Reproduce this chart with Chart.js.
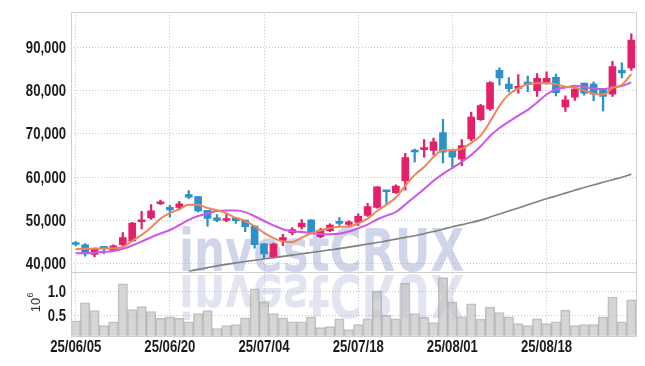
<!DOCTYPE html>
<html><head><meta charset="utf-8">
<script src="https://cdn.jsdelivr.net/npm/chart.js@4/dist/chart.umd.min.js"></script>
<style>html,body{margin:0;padding:0;background:#fff;}#wrap{width:645px;height:366px;}</style>
</head><body><div id="wrap"><canvas id="c" width="645" height="366"></canvas></div>
<script>
const dates = ['25/06/05','25/06/09','25/06/10','25/06/11','25/06/12','25/06/13','25/06/16','25/06/17','25/06/18','25/06/19',
'25/06/20','25/06/23','25/06/24','25/06/25','25/06/26','25/06/27','25/06/30','25/07/01','25/07/02','25/07/03',
'25/07/04','25/07/07','25/07/08','25/07/09','25/07/10','25/07/11','25/07/14','25/07/15','25/07/16','25/07/17',
'25/07/18','25/07/21','25/07/22','25/07/23','25/07/24','25/07/25','25/07/28','25/07/29','25/07/30','25/07/31',
'25/08/01','25/08/04','25/08/05','25/08/06','25/08/07','25/08/08','25/08/11','25/08/12','25/08/13','25/08/14',
'25/08/18','25/08/19','25/08/20','25/08/21','25/08/22','25/08/25','25/08/26','25/08/27','25/08/28','25/08/29'];
const xTickLabels = ['25/06/05','25/06/20','25/07/04','25/07/18','25/08/01','25/08/18'];
const priceTicks = [40000,50000,60000,70000,80000,90000];
const volumeTicks = [0.5,1.0];

const open = [44850,44338,42130,43805,43044,44338,45251,49665,50578,53850,
53013,53013,55981,55525,52328,50578,49970,50578,50046,48676,
44566,41523,45327,47154,48448,50122,46240,47610,49589,49057,
49540,51138,52966,56926,56392,59135,66140,66368,66216,70329,
66293,64161,68882,73299,75812,84715,81544,80562,81997,80034,
81997,83130,76259,78524,81771,81544,80562,79204,84715,85319];
const high = [45100,44640,43577,43957,44338,47154,49513,52102,53622,54688,
53470,54383,56895,55525,52328,51339,51339,50578,50046,48676,
44566,44718,46773,48295,50198,50122,48143,49209,50655,49894,
51519,53957,57764,56926,58221,65531,66521,68730,69034,73375,
66521,68730,75050,76878,82133,85319,83054,83734,83432,83960,
84413,83885,78826,81091,81771,82072,80562,86829,86451,93171];
const low = [44110,41675,41523,42283,42892,44110,45099,47990,50198,53622,
50730,52633,54992,51948,48676,49665,49665,49285,47382,43577,
41142,41294,44110,46620,47990,47382,46012,47382,48828,48752,
48778,50910,52814,53805,56240,56998,63552,64618,65150,63324,
62181,62638,68425,73146,75431,81317,79732,79430,79808,78675,
81544,78826,75202,77769,78977,77694,75353,78675,82979,84715];
const close = [44414,42207,43349,43500,44110,46012,49361,50122,52176,54307,
52405,53850,55372,52176,50426,49970,50426,49894,48524,44338,
42207,44490,46012,47838,49361,47382,47686,48904,49285,49665,
50911,53195,57764,56621,57917,64542,65835,66825,68197,65759,
64618,67283,73908,76573,81904,82979,80487,80940,81393,82904,
82904,79581,77920,80412,79430,79204,78675,85621,84111,91737];
const ma5 = [43300,43400,43450,43500,43516,43836,45266,46621,48356,50396,
51674,52572,53622,53622,52846,52359,51674,50578,49848,48630,
47078,45891,45114,44977,45982,47017,47656,48234,48524,48584,
49290,50392,52164,53631,55282,58008,60536,62348,64663,66232,
66247,66536,67953,69628,72857,76529,79170,80577,81541,81741,
81726,81544,80940,80744,80049,79309,79128,80668,81408,83870];
const ma10 = [42360,42435,42510,42660,42890,43425,44185,45100,46090,46956,
47755,48919,50122,50989,51621,52150,52250,52250,51900,50950,
49850,48850,47950,47450,47306,47047,46850,46800,46900,47400,
48153,49024,50199,51077,51933,53649,55464,57256,59147,60757,
62127,63536,65151,67146,69544,71388,72853,74265,75584,77299,
79128,80357,80759,81142,80895,80518,80336,80804,81076,81960];
const maLong = [null,null,null,null,null,null,null,null,null,null,
null,null,38200,38650,39050,39450,39800,40150,40450,40750,
41050,41350,41650,41950,42250,42550,42850,43150,43450,43800,
44150,44500,44850,45250,45650,46050,46450,46900,47400,47950,
48500,49000,49500,50050,50750,51450,52150,52850,53600,54300,
55000,55650,56300,56950,57600,58200,58800,59400,60000,60700];
const volume = [0.40,0.77,0.61,0.30,0.38,1.16,0.63,0.69,0.59,0.45,
0.48,0.45,0.38,0.55,0.61,0.24,0.30,0.32,0.46,1.06,
0.79,0.55,0.46,0.38,0.38,0.48,0.26,0.28,0.44,0.22,
0.32,0.44,1.01,0.51,0.44,1.17,0.55,0.47,0.36,1.29,
0.79,0.48,0.75,0.43,0.68,0.57,0.48,0.34,0.30,0.44,
0.34,0.38,0.62,0.30,0.32,0.32,0.48,0.89,0.38,0.83];

const RED = '#e3206a', BLUE = '#2b91c8';
const candleColors = close.map((c, i) => c >= open[i] ? RED : BLUE);
const GRID = '#c3c7d9';
const LABEL_FONT = 'bold 16px "Liberation Sans", Arial, sans-serif';
const NARROW = 0.82;
const HIDDEN = 'rgba(0,0,0,0)';

function narrowText(ctx, text, x, y, align) {
  ctx.save();
  ctx.translate(x, y);
  ctx.scale(NARROW, 1);
  ctx.textAlign = align;
  ctx.textBaseline = 'middle';
  ctx.fillText(text, 0, 0);
  ctx.restore();
}

const deco = {
  id: 'deco',
  beforeDatasetsDraw(chart) {
    const {ctx, chartArea: a} = chart;
    ctx.save();
    ctx.beginPath();
    ctx.rect(a.left, a.top, a.right - a.left, a.bottom - a.top);
    ctx.clip();
    ctx.font = 'bold 58px "DejaVu Sans", sans-serif';
    const txt = 'investCRUX';
    const w = ctx.measureText(txt).width;
    ctx.translate(179, 271);
    ctx.scale(285 / w, 1);
    ctx.fillStyle = 'rgba(150,160,206,0.44)';
    ctx.fillText(txt, 0, 0);
    ctx.translate(0, 4);
    ctx.scale(1, -1);
    ctx.fillStyle = 'rgba(150,160,206,0.28)';
    ctx.fillText(txt, 0, 0);
    ctx.restore();
  },
  afterDatasetsDraw(chart) {
    const {ctx, chartArea: a, scales} = chart;
    const sep = Math.round(scales.y.bottom) + 0.5;
    ctx.save();
    ctx.strokeStyle = '#cfcfcf';
    ctx.lineWidth = 1;
    ctx.beginPath();
    ctx.rect(Math.round(a.left) + 0.5, Math.round(a.top) + 0.5, Math.round(a.right - a.left), Math.round(a.bottom - a.top));
    ctx.moveTo(a.left, sep); ctx.lineTo(a.right, sep);
    ctx.stroke();
    ctx.restore();
  },
  afterDraw(chart) {
    const {ctx, chartArea: a, scales} = chart;
    ctx.save();
    ctx.fillStyle = '#1a1a1a';
    ctx.font = LABEL_FONT;
    priceTicks.forEach(v => narrowText(ctx, v.toLocaleString('en-US'), 66, scales.y.getPixelForValue(v) + 1, 'right'));
    volumeTicks.forEach(v => narrowText(ctx, v.toFixed(1), 66, scales.yv.getPixelForValue(v) + 1, 'right'));
    xTickLabels.forEach(l => narrowText(ctx, l, scales.x.getPixelForValue(dates.indexOf(l)), a.bottom + 12, 'center'));
    // volume axis unit title
    ctx.fillStyle = '#333';
    ctx.translate(36, 305);
    ctx.rotate(-Math.PI / 2);
    ctx.textAlign = 'center';
    ctx.textBaseline = 'middle';
    ctx.font = '13px "Liberation Sans", sans-serif';
    ctx.fillText('10', 0, 0);
    ctx.font = '9px "Liberation Sans", sans-serif';
    ctx.fillText('6', 10, -5);
    ctx.restore();
  }
};

new Chart(document.getElementById('c'), {
  type: 'bar',
  data: {
    labels: dates,
    datasets: [
      {type: 'line', label: 'MA5', data: ma5, yAxisID: 'y', borderColor: '#f0855a', borderWidth: 2, pointRadius: 0, cubicInterpolationMode: 'monotone', order: 0},
      {type: 'line', label: 'MA10', data: ma10, yAxisID: 'y', borderColor: '#cc58ea', borderWidth: 2, pointRadius: 0, cubicInterpolationMode: 'monotone', order: 0},
      {type: 'line', label: 'MA60', data: maLong, yAxisID: 'y', borderColor: '#808080', borderWidth: 1.6, pointRadius: 0, cubicInterpolationMode: 'monotone', order: 0},
      {label: 'wick', data: low.map((l, i) => [l, high[i]]), yAxisID: 'y', backgroundColor: candleColors, barThickness: 1.6, grouped: false, order: 1},
      {label: 'body', data: open.map((o, i) => [o, close[i]]), yAxisID: 'y', backgroundColor: candleColors, barThickness: 7, minBarLength: 2, grouped: false, order: 1},
      {label: 'volume', data: volume, yAxisID: 'yv', backgroundColor: 'rgba(195,195,195,0.68)', borderColor: 'rgba(165,165,165,0.7)', borderWidth: 1, barPercentage: 1, categoryPercentage: 1, grouped: false, order: 2}
    ]
  },
  options: {
    responsive: false, animation: false, devicePixelRatio: 1,
    layout: {padding: {left: 0, right: 9, top: 9, bottom: 7}},
    plugins: {legend: {display: false}, tooltip: {enabled: false}},
    scales: {
      x: {
        type: 'category', offset: true,
        grid: {offset: false, drawTicks: false, color: c => xTickLabels.includes(dates[c.index]) ? GRID : HIDDEN},
        border: {display: false, dash: [1, 2]},
        ticks: {autoSkip: false, maxRotation: 0, padding: 2, color: HIDDEN, font: {family: 'Liberation Sans', size: 16, weight: 'bold'},
          callback: (v, i) => xTickLabels.includes(dates[i]) ? dates[i] : ''}
      },
      yv: {
        type: 'linear', position: 'left', stack: 'main', stackWeight: 1, min: 0.09, max: 1.41,
        afterBuildTicks: s => { s.ticks = volumeTicks.map(v => ({value: v})); },
        afterFit: s => { s.width = 71; },
        grid: {color: GRID, drawTicks: false},
        border: {display: false, dash: [1, 2]},
        ticks: {padding: 5, color: HIDDEN, callback: v => Number(v).toFixed(1)}
      },
      y: {
        type: 'linear', position: 'left', stack: 'main', stackWeight: 4.05, min: 38100, max: 98200,
        afterBuildTicks: s => { s.ticks = priceTicks.map(v => ({value: v})); },
        afterFit: s => { s.width = 71; },
        grid: {color: GRID, drawTicks: false},
        border: {display: false, dash: [1, 2]},
        ticks: {padding: 5, color: HIDDEN, callback: v => Number(v).toLocaleString('en-US')}
      }
    }
  },
  plugins: [deco]
});
</script></body></html>
